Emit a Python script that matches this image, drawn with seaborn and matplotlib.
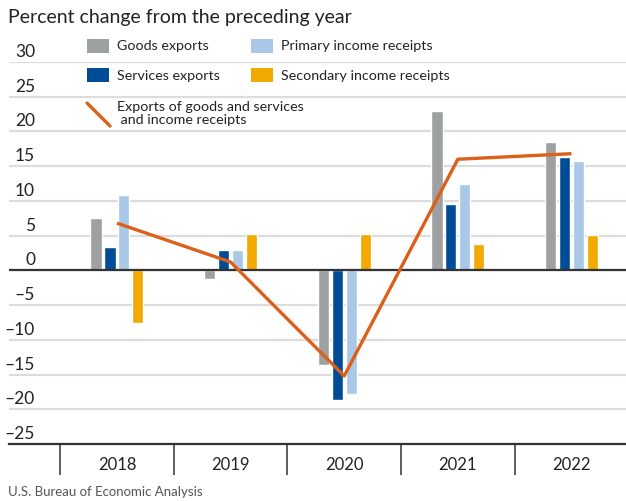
import matplotlib
matplotlib.use("Agg")
import matplotlib.pyplot as plt
from matplotlib.patches import Rectangle
from matplotlib.lines import Line2D
import matplotlib.transforms as mtransforms
import numpy as np
import pandas as pd
import seaborn as sns

# ---- data -------------------------------------------------------------
years = ["2018", "2019", "2020", "2021", "2022"]
series_names = ["Goods exports", "Services exports",
                "Primary income receipts", "Secondary income receipts"]
goods_exports = [7.6, -1.3, -13.6, 23.0, 18.5]
services_exports = [3.3, 2.9, -18.6, 9.5, 16.3]
primary_income = [10.8, 3.0, -17.8, 12.5, 15.8]
secondary_income = [-7.6, 5.3, 5.3, 3.8, 5.1]
total_exports_income = [6.8, 1.2, -15.2, 16.0, 16.8]
line_name = "Exports of goods and services\n and income receipts"
y_ticks = [30, 25, 20, 15, 10, 5, 0, -5, -10, -15, -20, -25]

colors = {
    "Goods exports": "#9ea1a2",
    "Services exports": "#004c97",
    "Primary income receipts": "#a9c8e8",
    "Secondary income receipts": "#f2a900",
}
line_color = "#dc6019"

df = pd.DataFrame({
    "year": years * 4,
    "series": np.repeat(series_names, len(years)),
    "value": goods_exports + services_exports + primary_income + secondary_income,
})

# ---- figure -----------------------------------------------------------
sns.set_theme(style="white")
plt.rcParams["font.family"] = ["Lato", "DejaVu Sans"]

W, H = 626, 501
fig = plt.figure(figsize=(W / 100, H / 100), dpi=100)


def px(x, y):
    return x / W, 1 - y / H


ax_left, ax_right = 9, 626
ax_top, ax_bottom = 62, 444
ax = fig.add_axes([ax_left / W, 1 - ax_bottom / H,
                   (ax_right - ax_left) / W, (ax_bottom - ax_top) / H])

sns.barplot(data=df, x="year", y="value", hue="series", order=years,
            hue_order=series_names, palette=colors, width=0.49, gap=0.2,
            saturation=1, legend=False, ax=ax, zorder=3)

sns.lineplot(x=np.arange(len(years)), y=total_exports_income, color=line_color,
             linewidth=2.4, ax=ax, zorder=5, solid_capstyle="butt")

ax.set_ylim(-25, 30)
ax.set_xlim(-0.95, 4.48)

# gridlines and axis lines
ax.set_yticks(y_ticks)
ax.set_yticklabels([])
ax.tick_params(axis="y", length=0)
ax.yaxis.grid(True, color="#dcdcdc", linewidth=1.6, zorder=0)
ax.set_axisbelow(True)
ax.axhline(0, color="#333333", linewidth=1.6, zorder=4)
for side in ["top", "right", "left"]:
    ax.spines[side].set_visible(False)
ax.spines["bottom"].set_color("#333333")
ax.spines["bottom"].set_linewidth(1.6)

# year separators as major ticks, year names on minor ticks
ax.set_xticks(np.arange(-0.5, len(years) - 1, 1.0))
ax.set_xticklabels([])
ax.tick_params(axis="x", which="major", bottom=True, length=22, width=1.1,
               color="#333333", direction="out")
ax.set_xticks(np.arange(len(years)), minor=True)
ax.set_xticklabels(years, minor=True, fontsize=12, color="#222222")
ax.tick_params(axis="x", which="minor", bottom=True, length=0, pad=9)
ax.set_xlabel("")
ax.set_ylabel("")

# y labels sit just above their gridlines
trans = mtransforms.blended_transform_factory(ax.transAxes, ax.transData)
for v in y_ticks:
    lab = str(v) if v >= 0 else "\u2013" + str(-v)
    ax.annotate(lab, xy=((35 - ax_left) / (ax_right - ax_left), v),
                xycoords=trans, xytext=(0, 5), textcoords="offset pixels",
                ha="right", va="baseline", fontsize=12.5, color="#222222")

# title and source
fig.text(*px(8, 18), "Percent change from the preceding year",
         fontsize=14, color="#222222", ha="left", va="center")
fig.text(*px(8, 492), "U.S. Bureau of Economic Analysis",
         fontsize=9.5, color="#555555", ha="left", va="center")

# legend
def swatch(x, y, name):
    x0, y0 = px(x, y + 14)
    fig.patches.append(Rectangle((x0, y0), 22 / W, 14 / H,
                                 transform=fig.transFigure,
                                 facecolor=colors[name], edgecolor="none"))
    fig.text(*px(x + 30, y + 7.5), name, fontsize=10.3, color="#222222",
             ha="left", va="center")


swatch(87, 39, "Goods exports")
swatch(87, 68, "Services exports")
swatch(251, 39, "Primary income receipts")
swatch(251, 68, "Secondary income receipts")

(lx0, ly0), (lx1, ly1) = px(87, 103), px(110, 126)
fig.lines.append(Line2D([lx0, lx1], [ly0, ly1], transform=fig.transFigure,
                        color=line_color, linewidth=2.4))
fig.text(*px(117, 113.5), line_name, fontsize=10.3, color="#222222",
         ha="left", va="center", linespacing=1.05)

fig.savefig("out.png", dpi=100)
